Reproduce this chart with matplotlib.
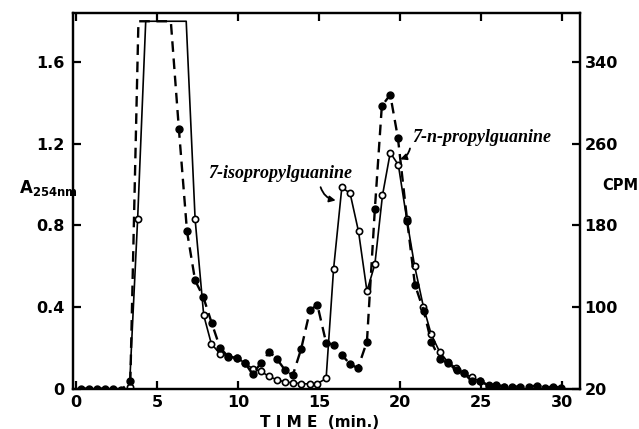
import matplotlib
matplotlib.use("Agg")
import matplotlib.pyplot as plt
import numpy as np

# A254 trace (open circles, solid line); 2.0 = off scale
time_a = [3.3, 3.8, 4.3, 4.8, 5.3, 5.8, 6.3, 6.8, 7.35, 7.88, 8.35, 8.89, 9.41,
          9.93, 10.44, 10.9, 11.41, 11.9, 12.38, 12.9, 13.38, 13.9, 14.45, 14.9,
          15.44, 15.9, 16.41, 16.92, 17.44, 17.96, 18.45, 18.92, 19.4, 19.9,
          20.42, 20.9, 21.45, 21.93, 22.45, 22.96, 23.48, 23.96, 24.44, 24.96,
          25.47, 25.94, 26.4]
a254 = [0.01, 0.83, 2.0, 2.0, 2.0, 2.0, 2.0, 2.0, 0.83, 0.36, 0.22, 0.17, 0.16,
        0.15, 0.125, 0.097, 0.085, 0.06, 0.044, 0.032, 0.029, 0.024, 0.023, 0.024,
        0.05, 0.586, 0.986, 0.957, 0.77, 0.478, 0.609, 0.947, 1.156, 1.096,
        0.83, 0.603, 0.40, 0.266, 0.18, 0.13, 0.10, 0.075, 0.055, 0.035,
        0.02, 0.012, 0.008]

# radioactivity trace (filled circles, dashed line); 420 = off scale
time_c = [0.3, 0.8, 1.3, 1.8, 2.3, 2.8, 3.35, 3.85, 4.35, 4.85, 5.35, 5.85, 6.35,
          6.85, 7.35, 7.85, 8.38, 8.89, 9.41, 9.93, 10.44, 10.9, 11.41, 11.94,
          12.4, 12.91, 13.38, 13.9, 14.45, 14.9, 15.44, 15.9, 16.41, 16.92, 17.4,
          17.96, 18.45, 18.88, 19.4, 19.87, 20.45, 20.92, 21.47, 21.93, 22.45,
          22.96, 23.5, 23.96, 24.44, 24.96, 25.47, 25.94, 26.4, 26.9, 27.42,
          27.94, 28.49, 28.97, 29.48, 29.94]
cpm = [20, 20, 20, 20, 20, 19, 27, 420, 420, 420, 420, 420, 274,
       174, 126, 110, 84, 60, 51, 50, 45, 34, 45, 56,
       49, 38, 33, 59, 97, 102, 65, 63, 53, 44, 40,
       66, 196, 297, 308, 266, 184, 122, 96, 66, 49,
       45, 38, 35, 27, 27, 23, 24, 22, 22, 22,
       22, 23, 21, 22, 21]

a_ticks = [0, 0.4, 0.8, 1.2, 1.6]
a_labels = ["0", "0.4", "0.8", "1.2", "1.6"]
cpm_ticks = [20, 100, 180, 260, 340]
x_ticks = [0, 5, 10, 15, 20, 25, 30]

a_top = 1.8
c_top = 20 + 200 * a_top

fig = plt.figure(figsize=(6.39, 4.29), dpi=100)
ax = fig.add_axes([0.114, 0.093, 0.794, 0.876])
ax2 = ax.twinx()

ylo, yhi = -0.0025, 1.839
ax.set_xlim(-0.2, 31.13)
ax.set_ylim(ylo, yhi)
ax2.set_ylim(20 + 200 * ylo, 20 + 200 * yhi)

ta = np.array(time_a)
va = np.array(a254)
tc = np.array(time_c)
vc = np.array(cpm)

# solid line, open circles
ax.plot(ta, np.minimum(va, a_top), color="black", lw=1.2, zorder=3)
ok = va <= a_top
ax.plot(ta[ok], va[ok], "o", ms=4.5, mfc="white", mec="black", mew=1.2, zorder=4)

# dashed line, filled circles
ax2.plot(tc, np.minimum(vc, c_top), color="black", lw=1.7, ls=(0, (4.5, 2.8)), zorder=3)
ok = vc <= c_top
ax2.plot(tc[ok], vc[ok], "o", ms=5, color="black", zorder=4)

for a in (ax, ax2):
    for s in a.spines.values():
        s.set_linewidth(1.6)

ax.set_xticks(x_ticks)
ax.set_yticks(a_ticks)
ax.set_yticklabels(a_labels)
ax2.set_yticks(cpm_ticks)
ax.tick_params(axis="both", direction="in", length=6, width=1.6, labelsize=11.5, pad=6)
ax.tick_params(axis="x", top=True, pad=4)
ax2.tick_params(axis="y", direction="in", length=6, width=1.6, labelsize=11.5, pad=3)
for lab in ax.get_xticklabels() + ax.get_yticklabels() + ax2.get_yticklabels():
    lab.set_fontweight("bold")

fig.text(0.03, 0.55, r"A$_{\mathbf{254nm}}$", fontsize=12, fontweight="bold")
fig.text(0.943, 0.557, "CPM", fontsize=10.5, fontweight="bold")
fig.text(0.5, 0.016, "T I M E  (min.)", fontsize=11, fontweight="bold",
         ha="center", va="center")

lab_font = dict(family="Liberation Serif", style="italic", fontweight="bold", fontsize=13)
ax.text(12.6, 1.056, "7-isopropylguanine", ha="center", va="center", **lab_font)
ax.text(25.06, 1.228, "7-n-propylguanine", ha="center", va="center", **lab_font)
ax.annotate("", xy=(16.2, 0.92), xytext=(15.05, 1.0),
            arrowprops=dict(arrowstyle="-|>", color="black", lw=1.3,
                            connectionstyle="arc3,rad=0.35", mutation_scale=9))
ax.annotate("", xy=(19.85, 1.12), xytext=(20.65, 1.19),
            arrowprops=dict(arrowstyle="-|>", color="black", lw=1.3,
                            connectionstyle="arc3,rad=-0.35", mutation_scale=9))

fig.savefig("out.png", dpi=100)
